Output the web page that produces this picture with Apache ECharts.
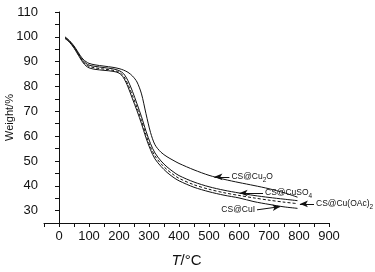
<!DOCTYPE html>
<html>
<head>
<meta charset="utf-8">
<script src="https://cdn.jsdelivr.net/npm/echarts@6/dist/echarts.min.js"></script>
<style>
  html, body { margin: 0; padding: 0; background: #fff; }
  #main { width: 375px; height: 272px; }
</style>
</head>
<body>
<div id="main"></div>
<script>
// temperatures (°C) shared by all four TGA curves
const temps = [20, 30, 40, 50, 60, 70, 80, 90, 100, 120, 150, 180, 200, 215, 230, 245, 260, 275, 290, 305, 320, 340, 360, 380, 400, 450, 500, 550, 600, 650, 700, 750, 795];

const cu2o = [100, 99, 97.8, 96.3, 94.5, 92.6, 91, 90, 89.3, 88.7, 88.2, 87.7, 87.2, 86.6, 85.7, 84.2, 81.8, 77, 69, 61.5, 56.5, 53.5, 51.7, 50.3, 49, 46.4, 44.2, 42.6, 41.3, 40.1, 38.8, 37.2, 35.4];
const cuso4 = [99.8, 98.8, 97.5, 96, 94.1, 92.1, 90.4, 89.3, 88.6, 88.1, 87.6, 87.1, 86.4, 85.2, 82.3, 78, 73, 67.8, 62, 57, 53.2, 50, 47.6, 45.7, 44.1, 41.5, 39.6, 38.2, 37.1, 36.1, 35.3, 34.6, 34.0];
const cuOAc = [99.5, 98.6, 97.3, 95.7, 93.8, 91.8, 90, 88.8, 88.1, 87.5, 87, 86.5, 85.8, 84.2, 80.8, 76.3, 71.5, 66.2, 60.5, 55.6, 52, 48.9, 46.5, 44.6, 43, 40.4, 38.6, 37.2, 36.1, 35.1, 34.2, 33.4, 32.8];
const cuI = [99.3, 98.4, 97.1, 95.5, 93.5, 91.5, 89.6, 88.3, 87.5, 86.9, 86.5, 86.1, 85.4, 83.5, 79.8, 75, 70.2, 65, 59.3, 54.5, 50.8, 47.8, 45.4, 43.5, 42, 39.4, 37.6, 36.2, 35.1, 33.6, 32.5, 31.5, 30.9];

// annotation arrows: [tail, tip] in data coords, label drawn at the tail
const arrows = {
  cu2o: [[568, 43.6], [518, 43.6]],
  cuso4: [[680, 37.1], [602, 37.1]],
  cuOAc: [[850, 32.7], [803, 32.7]],
  cuI: [[660, 30.3], [738, 31.6]]
};
const labels = {
  cu2o: '{a|CS@Cu}{s|2}{a|O}',
  cuso4: '{a|CS@CuSO}{s|4}',
  cuOAc: '{a|CS@Cu(OAc)}{s|2}',
  cuI: '{a|CS@CuI}'
};

const font = 'Liberation Sans, Arial, sans-serif';
const rich = {
  a: { fontSize: 8.5, fontFamily: font, color: '#111', lineHeight: 13, verticalAlign: 'middle' },
  s: { fontSize: 6.5, fontFamily: font, color: '#111', lineHeight: 6.5, verticalAlign: 'bottom' }
};

function mk(name, values, key, dashed) {
  return {
    name: name,
    type: 'line',
    data: temps.map((t, i) => [t, values[i]]),
    showSymbol: false,
    smooth: 0.3,
    lineStyle: { color: '#111', width: 1, type: dashed ? [3, 2] : 'solid' },
    markLine: {
      silent: true,
      symbol: ['none', 'arrow'],
      symbolSize: [5, 8],
      lineStyle: { color: '#111', width: 1, type: 'solid' },
      label: { show: true, position: 'start', distance: 2, formatter: labels[key], rich: rich },
      data: [[{ coord: arrows[key][0] }, { coord: arrows[key][1] }]]
    }
  };
}

const chart = echarts.init(document.getElementById('main'));
chart.setOption({
  animation: false,
  grid: { left: 44, right: 46, top: 12, bottom: 49, outerBoundsMode: 'none' },
  xAxis: {
    type: 'value', min: -50, max: 900, interval: 50,
    name: '{i|T}{n|/°C}', nameLocation: 'middle', nameGap: 30, nameMoveOverlap: false,
    nameTextStyle: { rich: { i: { fontSize: 15, fontStyle: 'italic', fontFamily: font, color: '#111' }, n: { fontSize: 15, fontFamily: font, color: '#111' } } },
    axisLine: { lineStyle: { color: '#111', width: 1 } },
    axisTick: { length: 4, lineStyle: { color: '#111' } },
    axisLabel: { fontSize: 13, fontFamily: font, color: '#111', margin: 7, formatter: v => (v >= 0 && v % 100 === 0 ? String(v) : '') },
    splitLine: { show: false }
  },
  yAxis: {
    type: 'value', min: 25, max: 110, interval: 5,
    name: 'Weight/%', nameLocation: 'middle', nameGap: 29, nameMoveOverlap: false,
    nameTextStyle: { fontSize: 11, fontFamily: font, color: '#111' },
    axisLine: { show: true, lineStyle: { color: '#111', width: 1 } },
    axisTick: { show: true, length: 4, lineStyle: { color: '#111' } },
    axisLabel: { fontSize: 13, fontFamily: font, color: '#111', margin: 6, formatter: v => (v >= 30 && v % 10 === 0 ? String(v) : '') },
    splitLine: { show: false }
  },
  series: [
    mk('CS@Cu2O', cu2o, 'cu2o', false),
    mk('CS@CuSO4', cuso4, 'cuso4', false),
    mk('CS@Cu(OAc)2', cuOAc, 'cuOAc', true),
    mk('CS@CuI', cuI, 'cuI', false)
  ]
});
</script>
</body>
</html>
